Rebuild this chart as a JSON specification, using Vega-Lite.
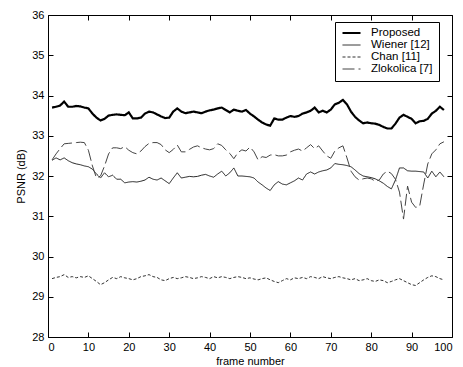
{
  "$schema": "https://vega.github.io/schema/vega-lite/v6.json",
  "width": 404,
  "height": 322,
  "autosize": {"type": "none"},
  "padding": {"left": 48, "top": 15, "right": 11, "bottom": 30},
  "background": "white",
  "config": {
    "view": {"stroke": "#000000", "strokeWidth": 1},
    "font": "Liberation Sans",
    "axis": {
      "grid": false,
      "domain": false,
      "tickColor": "#000000",
      "tickSize": -5,
      "labelColor": "#000000",
      "labelFont": "Liberation Sans",
      "labelFontSize": 11,
      "titleFont": "Liberation Sans",
      "titleFontSize": 11,
      "titleFontWeight": "normal",
      "titleColor": "#000000"
    }
  },
  "data": {
    "values": [
      {"f":1,"P":33.70,"W":32.39,"C":29.45,"Z":32.40},
      {"f":2,"P":33.72,"W":32.45,"C":29.48,"Z":32.55},
      {"f":3,"P":33.75,"W":32.40,"C":29.50,"Z":32.68},
      {"f":4,"P":33.85,"W":32.45,"C":29.55,"Z":32.80},
      {"f":5,"P":33.72,"W":32.38,"C":29.48,"Z":32.81},
      {"f":6,"P":33.72,"W":32.33,"C":29.50,"Z":32.82},
      {"f":7,"P":33.74,"W":32.30,"C":29.47,"Z":32.83},
      {"f":8,"P":33.73,"W":32.28,"C":29.50,"Z":32.84},
      {"f":9,"P":33.70,"W":32.25,"C":29.48,"Z":32.83},
      {"f":10,"P":33.68,"W":32.23,"C":29.52,"Z":32.64},
      {"f":11,"P":33.55,"W":32.17,"C":29.45,"Z":32.25},
      {"f":12,"P":33.45,"W":32.05,"C":29.38,"Z":31.95},
      {"f":13,"P":33.38,"W":31.95,"C":29.30,"Z":32.00},
      {"f":14,"P":33.42,"W":32.08,"C":29.35,"Z":32.25},
      {"f":15,"P":33.50,"W":31.98,"C":29.42,"Z":32.55},
      {"f":16,"P":33.52,"W":32.02,"C":29.48,"Z":32.70},
      {"f":17,"P":33.53,"W":31.92,"C":29.45,"Z":32.70},
      {"f":18,"P":33.52,"W":31.92,"C":29.50,"Z":32.68},
      {"f":19,"P":33.51,"W":31.83,"C":29.47,"Z":32.73},
      {"f":20,"P":33.58,"W":31.85,"C":29.45,"Z":32.64},
      {"f":21,"P":33.43,"W":31.86,"C":29.42,"Z":32.58},
      {"f":22,"P":33.43,"W":31.85,"C":29.45,"Z":32.55},
      {"f":23,"P":33.45,"W":31.87,"C":29.50,"Z":32.62},
      {"f":24,"P":33.55,"W":31.90,"C":29.52,"Z":32.73},
      {"f":25,"P":33.60,"W":31.97,"C":29.55,"Z":32.81},
      {"f":26,"P":33.58,"W":31.92,"C":29.50,"Z":32.83},
      {"f":27,"P":33.53,"W":31.90,"C":29.48,"Z":32.83},
      {"f":28,"P":33.48,"W":31.95,"C":29.42,"Z":32.78},
      {"f":29,"P":33.44,"W":31.88,"C":29.40,"Z":32.65},
      {"f":30,"P":33.45,"W":31.81,"C":29.45,"Z":32.58},
      {"f":31,"P":33.60,"W":31.95,"C":29.48,"Z":32.66},
      {"f":32,"P":33.68,"W":32.08,"C":29.45,"Z":32.77},
      {"f":33,"P":33.60,"W":31.95,"C":29.47,"Z":32.60},
      {"f":34,"P":33.56,"W":31.97,"C":29.50,"Z":32.60},
      {"f":35,"P":33.58,"W":31.99,"C":29.48,"Z":32.66},
      {"f":36,"P":33.60,"W":31.98,"C":29.45,"Z":32.72},
      {"f":37,"P":33.58,"W":31.99,"C":29.47,"Z":32.75},
      {"f":38,"P":33.56,"W":32.02,"C":29.50,"Z":32.70},
      {"f":39,"P":33.60,"W":32.04,"C":29.48,"Z":32.67},
      {"f":40,"P":33.63,"W":32.00,"C":29.45,"Z":32.65},
      {"f":41,"P":33.65,"W":31.97,"C":29.50,"Z":32.68},
      {"f":42,"P":33.68,"W":32.05,"C":29.47,"Z":32.80},
      {"f":43,"P":33.70,"W":32.12,"C":29.50,"Z":32.76},
      {"f":44,"P":33.64,"W":32.00,"C":29.48,"Z":32.65},
      {"f":45,"P":33.58,"W":32.08,"C":29.45,"Z":32.56},
      {"f":46,"P":33.65,"W":32.20,"C":29.48,"Z":32.43},
      {"f":47,"P":33.62,"W":32.00,"C":29.50,"Z":32.58},
      {"f":48,"P":33.60,"W":32.00,"C":29.48,"Z":32.65},
      {"f":49,"P":33.64,"W":31.99,"C":29.45,"Z":32.62},
      {"f":50,"P":33.55,"W":31.98,"C":29.47,"Z":32.72},
      {"f":51,"P":33.48,"W":31.95,"C":29.44,"Z":32.60},
      {"f":52,"P":33.40,"W":31.85,"C":29.42,"Z":32.40},
      {"f":53,"P":33.33,"W":31.78,"C":29.45,"Z":32.48},
      {"f":54,"P":33.28,"W":31.70,"C":29.47,"Z":32.46},
      {"f":55,"P":33.25,"W":31.64,"C":29.42,"Z":32.52},
      {"f":56,"P":33.43,"W":31.78,"C":29.38,"Z":32.53},
      {"f":57,"P":33.40,"W":31.86,"C":29.35,"Z":32.50},
      {"f":58,"P":33.40,"W":31.80,"C":29.40,"Z":32.50},
      {"f":59,"P":33.45,"W":31.78,"C":29.45,"Z":32.52},
      {"f":60,"P":33.49,"W":31.83,"C":29.42,"Z":32.60},
      {"f":61,"P":33.47,"W":31.88,"C":29.47,"Z":32.64},
      {"f":62,"P":33.49,"W":31.95,"C":29.45,"Z":32.67},
      {"f":63,"P":33.55,"W":31.90,"C":29.48,"Z":32.62},
      {"f":64,"P":33.58,"W":32.05,"C":29.45,"Z":32.70},
      {"f":65,"P":33.62,"W":32.10,"C":29.50,"Z":32.78},
      {"f":66,"P":33.70,"W":32.05,"C":29.48,"Z":32.68},
      {"f":67,"P":33.58,"W":32.10,"C":29.45,"Z":32.75},
      {"f":68,"P":33.62,"W":32.13,"C":29.50,"Z":32.62},
      {"f":69,"P":33.58,"W":32.15,"C":29.47,"Z":32.50},
      {"f":70,"P":33.65,"W":32.20,"C":29.45,"Z":32.44},
      {"f":71,"P":33.78,"W":32.31,"C":29.48,"Z":32.62},
      {"f":72,"P":33.82,"W":32.29,"C":29.50,"Z":32.70},
      {"f":73,"P":33.89,"W":32.28,"C":29.47,"Z":32.75},
      {"f":74,"P":33.78,"W":32.26,"C":29.45,"Z":32.45},
      {"f":75,"P":33.60,"W":32.23,"C":29.42,"Z":32.12},
      {"f":76,"P":33.47,"W":32.15,"C":29.45,"Z":31.98},
      {"f":77,"P":33.38,"W":32.06,"C":29.40,"Z":31.90},
      {"f":78,"P":33.31,"W":32.00,"C":29.42,"Z":31.93},
      {"f":79,"P":33.33,"W":31.98,"C":29.45,"Z":31.95},
      {"f":80,"P":33.31,"W":31.96,"C":29.40,"Z":31.93},
      {"f":81,"P":33.30,"W":31.93,"C":29.38,"Z":31.87},
      {"f":82,"P":33.27,"W":31.88,"C":29.42,"Z":31.90},
      {"f":83,"P":33.22,"W":31.82,"C":29.40,"Z":32.05},
      {"f":84,"P":33.18,"W":31.74,"C":29.35,"Z":32.12},
      {"f":85,"P":33.18,"W":31.68,"C":29.38,"Z":32.06},
      {"f":86,"P":33.30,"W":31.90,"C":29.42,"Z":31.92},
      {"f":87,"P":33.45,"W":32.20,"C":29.45,"Z":31.60},
      {"f":88,"P":33.52,"W":32.20,"C":29.40,"Z":30.93},
      {"f":89,"P":33.47,"W":32.13,"C":29.35,"Z":31.75},
      {"f":90,"P":33.42,"W":32.12,"C":29.30,"Z":31.35},
      {"f":91,"P":33.31,"W":32.12,"C":29.28,"Z":31.22},
      {"f":92,"P":33.36,"W":32.11,"C":29.35,"Z":31.25},
      {"f":93,"P":33.37,"W":32.10,"C":29.42,"Z":31.80},
      {"f":94,"P":33.42,"W":31.95,"C":29.48,"Z":32.30},
      {"f":95,"P":33.55,"W":32.12,"C":29.52,"Z":32.55},
      {"f":96,"P":33.62,"W":31.98,"C":29.50,"Z":32.65},
      {"f":97,"P":33.72,"W":32.10,"C":29.45,"Z":32.80},
      {"f":98,"P":33.64,"W":31.98,"C":29.42,"Z":32.85}
    ]
  },
  "transform": [{"fold": ["P", "W", "C", "Z"], "as": ["key", "v"]}],
  "layer": [
    {
      "mark": {"type": "line", "clip": true},
      "encoding": {
        "x": {
          "field": "f", "type": "quantitative",
          "scale": {"domain": [0, 100], "nice": false, "zero": false},
          "axis": {"orient": "bottom", "values": [0,10,20,30,40,50,60,70,80,90,100], "title": "frame number", "labelPadding": 9, "titlePadding": 3}
        },
        "y": {
          "field": "v", "type": "quantitative",
          "scale": {"domain": [28, 36], "nice": false, "zero": false},
          "axis": {"orient": "left", "values": [28,29,30,31,32,33,34,35,36], "title": "PSNR (dB)", "labelPadding": 9, "titlePadding": 5}
        },
        "color": {
          "field": "key", "type": "nominal",
          "scale": {"domain": ["P", "W", "C", "Z"], "range": ["#000000", "#1e1e1e", "#1a1a1a", "#444444"]},
          "legend": {
            "orient": "none", "legendX": 287, "legendY": 7, "title": null,
            "labelExpr": "{'P':'Proposed','W':'Wiener [12]','C':'Chan [11]','Z':'Zlokolica [7]'}[datum.label]",
            "symbolType": "stroke", "symbolSize": 324, "labelFontSize": 11.5, "labelFont": "Liberation Sans",
            "labelColor": "#000000", "rowPadding": 0, "clipHeight": 10, "padding": 6, "strokeColor": "#000000",
            "fillColor": "white", "cornerRadius": 0, "labelOffset": 9
          }
        },
        "strokeDash": {
          "field": "key", "type": "nominal",
          "scale": {"domain": ["P", "W", "C", "Z"], "range": [[1, 0], [1, 0], [3, 2], [12, 4]]},
          "legend": null
        },
        "strokeWidth": {
          "field": "key", "type": "ordinal",
          "scale": {"type": "ordinal", "domain": ["P", "W", "C", "Z"], "range": [2.2, 1, 0.9, 1]},
          "legend": null
        }
      }
    },
    {
      "mark": {"type": "line", "opacity": 0},
      "encoding": {
        "x": {"field": "f", "type": "quantitative", "axis": {"orient": "top", "values": [0,10,20,30,40,50,60,70,80,90,100], "labels": false, "title": null}},
        "y": {"field": "v", "type": "quantitative", "axis": {"orient": "right", "values": [28,29,30,31,32,33,34,35,36], "labels": false, "title": null}},
        "detail": {"field": "key"}
      }
    }
  ],
  "resolve": {"axis": {"x": "independent", "y": "independent"}}
}
